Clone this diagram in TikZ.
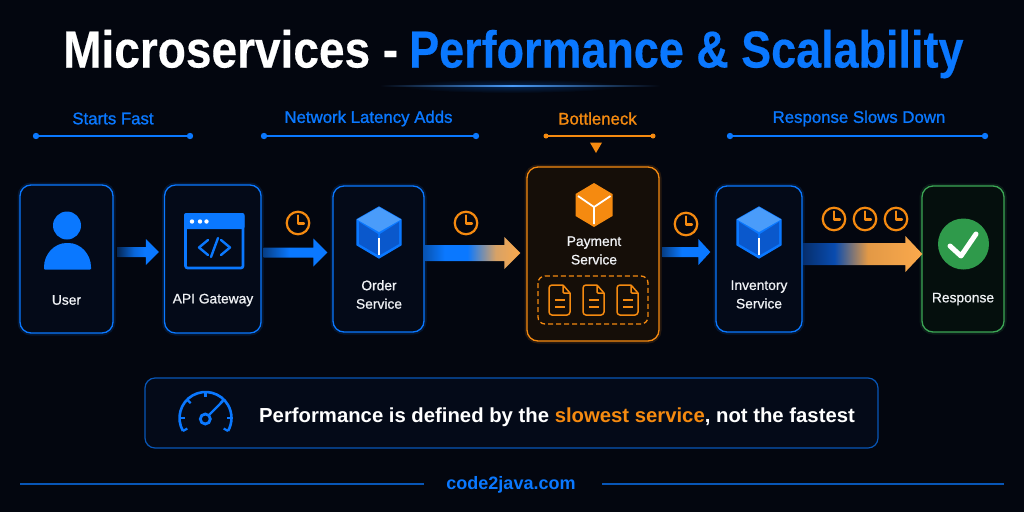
\documentclass[tikz,border=0pt]{standalone}
\usepackage{fontspec}
\setmainfont{Liberation Sans}
\newfontfamily\medfont[FakeBold=0.9]{Liberation Sans}
\newfontfamily\headfont[FakeBold=1.2]{Liberation Sans}
\newfontfamily\heavy[FakeBold=0.35]{Liberation Sans Bold}
\usetikzlibrary{calc,shapes.geometric}
\definecolor{bg}{HTML}{03060F}
\definecolor{bl}{HTML}{0A78FF}
\definecolor{bldk}{HTML}{0A58CC}
\definecolor{bllt}{HTML}{4A9CFA}
\definecolor{or}{HTML}{F58A10}
\definecolor{orlt}{HTML}{FBA94C}
\definecolor{gr}{HTML}{3CA655}
\definecolor{grdk}{HTML}{2F9A4B}
\definecolor{txt}{HTML}{F0F2F5}
\definecolor{boxbl}{HTML}{040A18}
\definecolor{boxor}{HTML}{150E08}
\definecolor{boxgr}{HTML}{050F0D}
\pgfdeclarehorizontalshading{flowa}{100bp}{color(0bp)=(bl!30!bg); color(25bp)=(bl!30!bg); color(45bp)=(bl!85!bg); color(58bp)=(bl); color(100bp)=(bl)}
\pgfdeclarehorizontalshading{flowb}{100bp}{color(0bp)=(bl!50!bg); color(25bp)=(bl!50!bg); color(45bp)=(bl); color(75bp)=(bl); color(100bp)=(bl)}
\pgfdeclarehorizontalshading{flowc}{100bp}{color(0bp)=(bl!70!bg); color(25bp)=(bl!70!bg); color(35bp)=(bl); color(47bp)=(bl); color(62bp)=(orlt!85!bl); color(75bp)=(orlt); color(100bp)=(orlt)}
\pgfdeclarehorizontalshading{flowd}{100bp}{color(0bp)=(bldk!50!bg); color(25bp)=(bldk!50!bg); color(38bp)=(bldk!85!bg); color(52bp)=(orlt!90!bg); color(75bp)=(orlt); color(100bp)=(orlt)}
\tikzset{
  x=1pt,y=-1pt,
  svcbox/.style={rectangle,rounded corners=11pt,inner sep=0pt,line width=1.3pt,
     preaction={draw=#1,draw opacity=.15,line width=5pt}},
  bluebox/.style={svcbox=bl,draw=bl,fill=boxbl},
  orbox/.style={svcbox=or,draw=or,fill=boxor},
  grbox/.style={svcbox=gr,draw=gr,fill=boxgr},
  lab/.style={text=txt,font=\fontsize{13.8}{18.5}\selectfont\medfont,align=center,inner sep=0pt},
  head/.style={text=#1,font=\fontsize{16.8}{18}\selectfont\headfont,inner sep=0pt},
  ruleln/.style={draw=#1,line width=1.4pt},
  clk/.style={circle,draw=or,line width=2.2pt,minimum size=22.5pt,inner sep=0pt},
  docln/.style={draw=or,line width=1.5pt,line join=round},
}
% start, end, head length, head half, shaft half, shading
\newcommand{\flow}[6]{%
  \shade[shading=#6]
   let \p1=(#1),\p2=(#2) in
   (\x1,\y1-#5pt) -- (\x2-#3pt,\y1-#5pt) -- (\x2-#3pt,\y1-#4pt) -- (\x2,\y1)
   -- (\x2-#3pt,\y1+#4pt) -- (\x2-#3pt,\y1+#5pt) -- (\x1,\y1+#5pt) -- cycle;}
\newcommand{\clockicon}[3]{%
  \node[clk] (#1) at (#2,#3) {};
  \draw[or,line width=2.2pt,line cap=round,line join=round]
    ($(#1.center)+(0,-7.5)$) -- ($(#1.center)+(0,0.5)$) -- ($(#1.center)+(6,0.5)$);}
\newcommand{\cube}[3]{%
  \begin{scope}[shift={(#1,#2)}]
   \fill[bl,draw=bl,line width=1.2pt,line join=round] (-#3,12.5) -- (0,0) -- (#3,12.5) -- (#3,38) -- (0,51) -- (-#3,38) -- cycle;
   \fill[bllt] (-#3,12.5) -- (0,0) -- (#3,12.5) -- (0,25) -- cycle;
   \fill[bldk] (-#3+2,15) -- (-1,27) -- (-1,48) -- (-#3+2,37) -- cycle;
   \fill[bldk] (#3-2,15) -- (1,27) -- (1,48) -- (#3-2,37) -- cycle;
   \draw[white,line width=1.6pt] (0,31) -- (0,48);
  \end{scope}}
\newcommand{\docicon}[1]{%
  \begin{scope}[shift={(#1,285)}]
   \draw[docln,rounded corners=3pt] (14,0) -- (0,0) -- (0,30) -- (21,30) -- (21,8);
   \draw[docln] (21,8) -- (14,0);
   \draw[docln,rounded corners=1pt] (14,0) -- (14,8) -- (21,8);
   \draw[docln] (6,15) -- (16,15) (6,22) -- (16,22);
  \end{scope}}
\begin{document}
\begin{tikzpicture}
\useasboundingbox (0,0) rectangle (1024,512);
\fill[bg] (0,0) rectangle (1024,512);

% title
\node[inner sep=0pt,anchor=base west,text=white,font=\fontsize{52}{60}\selectfont\heavy] (t1) at (63,67.5) {\scalebox{.885}[1]{Microservices -}};
\node[inner sep=0pt,anchor=base west,text=bl,font=\fontsize{52}{60}\selectfont\heavy] (t2) at (409,67.5) {\scalebox{.864}[1]{Performance \& Scalability}};
\shade[inner color=bl!28!bg,outer color=bg] (512,86) ellipse [x radius=110,y radius=7];
\shade[left color=bg,right color=bllt] (380,85.3) rectangle (512,86.5);
\shade[left color=bllt,right color=bg] (512,85.3) rectangle (660,86.5);

% headers
\node[head=bl] (h1) at (113,118.5) {Starts Fast};
\node[head=bl] (h2) at (368.5,118.5) {Network Latency Adds};
\node[head=or] (h3) at (597.5,118.5) {Bottleneck};
\node[head=bl] (h4) at (859,118.5) {Response Slows Down};
\foreach \n/\a/\b/\c/\r in {1/36/190/bl/3.2,2/264/476/bl/3.2,3/546/653/or/2.5,4/730/985/bl/3.2}{
  \coordinate (l\n a) at (\a,136);
  \coordinate (l\n b) at (\b,136);
  \draw[ruleln=\c] (l\n a) -- (l\n b);
  \fill[\c] (l\n a) circle (\r pt) (l\n b) circle (\r pt);
}
\node[regular polygon,regular polygon sides=3,shape border rotate=180,fill=or,inner sep=0pt,minimum size=14pt] (tri) at (596,146) {};

% boxes
\node[bluebox,minimum width=93pt,minimum height=148pt] (user) at (66.5,259) {};
\node[bluebox,minimum width=96.5pt,minimum height=148pt] (api) at (212.8,259) {};
\node[bluebox,minimum width=91pt,minimum height=146pt] (order) at (378.5,259) {};
\node[orbox,minimum width=132pt,minimum height=174pt] (pay) at (593,254) {};
\node[bluebox,minimum width=86pt,minimum height=146pt] (inv) at (759,259) {};
\node[grbox,minimum width=82pt,minimum height=146pt] (resp) at (963,259) {};

% labels
\node[lab] (lu) at (66.5,300) {User};
\node[lab] (la) at (213,300) {API Gateway};
\node[lab] (lo) at (379,294.5) {Order\\Service};
\node[lab] (lp) at (594,250.5) {Payment\\Service};
\node[lab] (li) at (759,294.5) {Inventory\\Service};
\node[lab] (lr) at (963,299) {Response};

% arrows
\coordinate (a1s) at ($(user.east |- 0,252)+(4,0)$);
\coordinate (a1e) at ($(api.west |- 0,252)+(-5,0)$);
\coordinate (a2s) at ($(api.east |- 0,252.5)+(2,0)$);
\coordinate (a2e) at ($(order.west |- 0,252.5)+(-5,0)$);
\coordinate (a3s) at ($(order.east |- 0,253)+(1,0)$);
\coordinate (a3e) at ($(pay.west |- 0,253)+(-6,0)$);
\coordinate (a4s) at ($(pay.east |- 0,252)+(3,0)$);
\coordinate (a4e) at ($(inv.west |- 0,252)+(-5,0)$);
\coordinate (a5s) at ($(inv.east |- 0,254)+(1,0)$);
\coordinate (a5e) at ($(resp.west |- 0,254)+(1,0)$);
\flow{a1s}{a1e}{13}{13}{5}{flowa}
\flow{a2s}{a2e}{14}{14}{5}{flowb}
\flow{a3s}{a3e}{16}{16}{8}{flowc}
\flow{a4s}{a4e}{12}{13}{5}{flowb}
\flow{a5s}{a5e}{17}{18}{11}{flowd}

% clocks
\clockicon{c1}{298}{223}
\clockicon{c2}{466}{223}
\clockicon{c3}{686}{224}
\clockicon{c4}{834}{219}
\clockicon{c5}{865}{219}
\clockicon{c6}{896}{219}

% user icon
\fill[bl] (67,225.5) circle (14pt);
\fill[bl,rounded corners=1pt] (44,269.5) -- (44,268) .. controls (44,254) and (54.5,243) .. (67.5,243) .. controls (80.5,243) and (91,254) .. (91,268) -- (91,269.5) -- cycle;

% api icon
\draw[bl,line width=2.6pt,rounded corners=2pt] (185.5,214.5) rectangle (243,268);
\fill[bl,rounded corners=2pt] (184,213) rectangle (244.5,229);
\fill[white] (192,221.5) circle (2.2pt) (200,221.5) circle (2.2pt) (206.5,221.5) circle (2.2pt);
\draw[bl,line width=2.4pt,line cap=round,line join=round]
  (208,240) -- (199,247.5) -- (208,255) (221,240) -- (230,247.5) -- (221,255) (218,238) -- (211,257);

% cubes
\cube{379}{207}{22}
\cube{759}{207}{22}
\fill[or,line join=round] (594,183) -- (612.5,194) -- (612.5,216) -- (594,227) -- (575.5,216) -- (575.5,194) -- cycle;
\draw[white,line width=1.8pt] (594,207) -- (594,224) (594,207) -- (578,196) (594,207) -- (610.5,196);

% docs
\draw[or,line width=1.3pt,dash pattern=on 5pt off 3pt,rounded corners=7pt] (538,276) rectangle (648,324);
\docicon{549}\docicon{583}\docicon{617}

% check
\fill[grdk] (963.5,244) circle (25.5pt);
\draw[white,line width=5pt,line cap=round,line join=round] (950,246) -- (961,256) -- (976,234);

% panel
\node[rectangle,draw=bl!70!bg,line width=1.2pt,rounded corners=10pt,fill=boxbl,minimum width=733pt,minimum height=70pt,inner sep=0pt] (panel) at (511.5,413) {};
\draw[bl,line width=2.6pt] (205.5,418) ++(150:26) arc (150:390:26);
\foreach \t in {180,225,270,315,360}{
  \draw[bl,line width=2.2pt] ($(205.5,418)+(\t:26)$) -- ($(205.5,418)+(\t:21)$);
}
\draw[bl,line width=2.2pt] ($(205.5,418)+(150:26)$) -- ($(205.5,418)+(150:21)$) ($(205.5,418)+(390:26)$) -- ($(205.5,418)+(390:21)$);
\draw[bl,line width=2.8pt] (205.3,419) circle (5pt);
\draw[bl,line width=2.2pt] (209.5,414.5) -- (223,401);
\node[inner sep=0pt,anchor=base west,text=white,font=\fontsize{20.3}{24}\selectfont\bfseries] (pt) at (259,422) {Performance is defined by the \textcolor{or}{slowest service}, not the fastest};

% footer
\coordinate (f1) at (20,484);
\coordinate (f2) at (424,484);
\coordinate (f3) at (602,484);
\coordinate (f4) at (1004,484);
\draw[bl!70!bg,line width=1.2pt] (f1) -- (f2) (f3) -- (f4);
\node[inner sep=0pt,text=bl,font=\fontsize{18}{22}\selectfont\bfseries] (ft) at (511,485) {code2java.com};
\end{tikzpicture}
\end{document}
